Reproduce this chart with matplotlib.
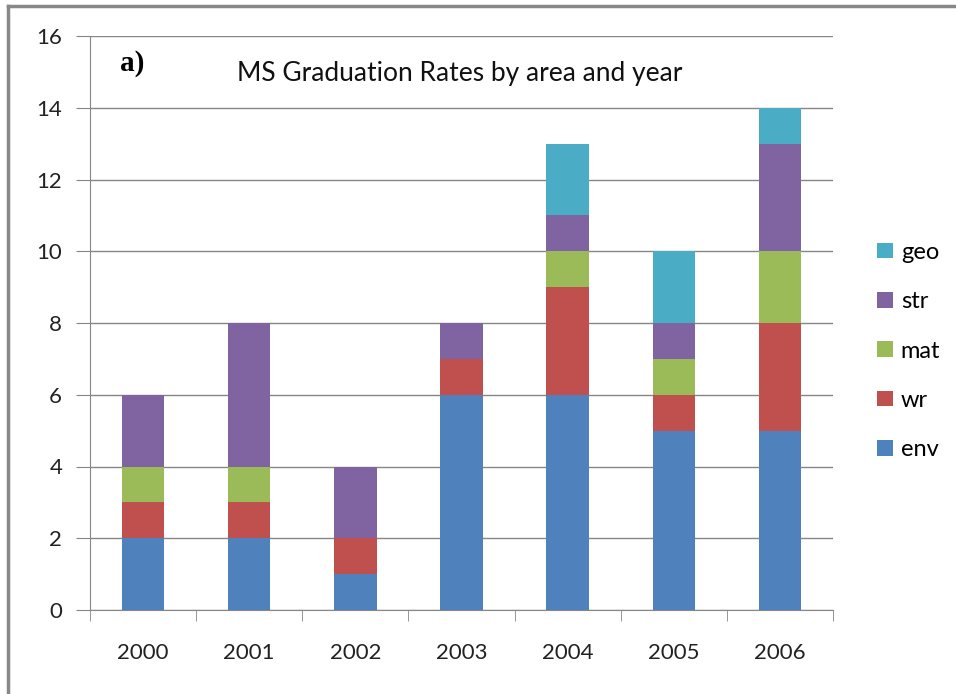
import numpy as np
import matplotlib.pyplot as plt
from matplotlib.patches import Patch
from matplotlib.lines import Line2D

years = ["2000", "2001", "2002", "2003", "2004", "2005", "2006"]
env = [2, 2, 1, 6, 6, 5, 5]
wr = [1, 1, 1, 1, 3, 1, 3]
mat = [1, 1, 0, 0, 1, 1, 2]
strc = [2, 4, 2, 1, 1, 1, 3]
geo = [0, 0, 0, 0, 2, 2, 1]

series = [("env", env, "#4F81BD"), ("wr", wr, "#C0504D"), ("mat", mat, "#9BBB59"),
          ("str", strc, "#8064A2"), ("geo", geo, "#4BACC6")]

plt.rcParams['font.family'] = ['Lato', 'DejaVu Sans']

fig = plt.figure(figsize=(9.56, 6.94), dpi=100)
ax = fig.add_axes([90/956, 1-610/694, (833-90)/956, (610-36)/694])

x = np.arange(len(years))
bottom = np.zeros(len(years))
for name, vals, col in series:
    ax.bar(x, vals, bottom=bottom, width=0.4, color=col, label=name, zorder=3)
    bottom += np.array(vals)

ax.set_xlim(-0.5, len(years) - 0.5)
ax.set_ylim(0, 16)
ax.set_yticks(range(0, 17, 2))
ax.tick_params(axis='y', labelsize=16, length=10, color='#868686', pad=10, labelcolor='#222222')
ax.set_xticks(x)
ax.set_xticklabels(years)
ax.set_xticks(np.arange(-0.5, len(years)), minor=True)
ax.tick_params(axis='x', which='major', length=0, labelsize=16, pad=24, labelcolor='#222222')
ax.tick_params(axis='x', which='minor', length=8, color='#868686')
ax.yaxis.grid(True, color='#868686', linewidth=1, zorder=0)
for s in ['top', 'right']:
    ax.spines[s].set_visible(False)
for s in ['left', 'bottom']:
    ax.spines[s].set_color('#868686')

ax.text(0.498, 0.935, "MS Graduation Rates by area and year", transform=ax.transAxes,
        ha='center', va='center', fontsize=19, color='#111111')
ax.text(0.04, 0.952, "a)", transform=ax.transAxes, ha='left', va='center',
        fontsize=21, fontweight='bold', family='Liberation Serif')

handles = [Patch(facecolor=c, label=n) for n, v, c in series][::-1]
fig.legend(handles=handles, loc='center left', bbox_to_anchor=(856/956, 1-351/694),
           frameon=False, fontsize=17, labelspacing=1.2, handlelength=0.65,
           handleheight=0.65, handletextpad=0.35)

# outer frame (only top and left visible in the crop)
fig.add_artist(Line2D([8/956, 8/956], [0, 1-6/694], color='#888888', lw=2.5, transform=fig.transFigure))
fig.add_artist(Line2D([8/956, 1], [1-6/694, 1-6/694], color='#888888', lw=2.5, transform=fig.transFigure))

fig.savefig("out.png", dpi=100)
